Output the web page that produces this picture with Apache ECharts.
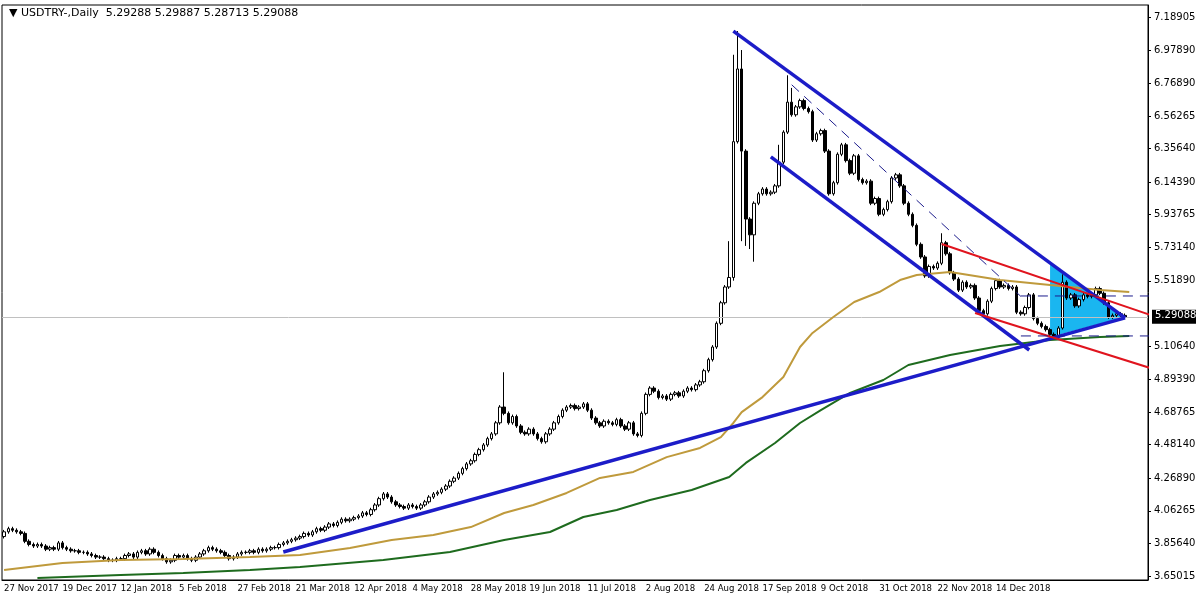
<!DOCTYPE html>
<html><head><meta charset="utf-8">
<script src="https://cdn.jsdelivr.net/npm/echarts@6/dist/echarts.min.js"></script>
<style>html,body{margin:0;padding:0;background:#fff}#c{width:1200px;height:600px}</style>
</head><body><div id="c"></div>
<script>
const closes = [
3.93,3.95,3.94,3.93,3.92,3.87,3.85,3.84,3.85,3.84,3.82,3.83,3.82,3.86,
3.83,3.82,3.81,3.81,3.80,3.80,3.79,3.78,3.77,3.77,3.76,3.75,3.75,3.76,
3.76,3.78,3.79,3.77,3.80,3.81,3.79,3.82,3.80,3.78,3.76,3.74,3.75,3.78,
3.77,3.78,3.76,3.75,3.77,3.79,3.81,3.83,3.82,3.81,3.80,3.78,3.76,3.77,
3.79,3.80,3.80,3.81,3.80,3.82,3.81,3.82,3.83,3.83,3.85,3.86,3.87,3.88,
3.89,3.90,3.92,3.91,3.93,3.95,3.94,3.96,3.98,3.97,3.99,4.01,4.00,4.01,
4.02,4.03,4.05,4.04,4.07,4.10,4.14,4.17,4.15,4.12,4.10,4.09,4.08,4.10,
4.09,4.08,4.10,4.12,4.15,4.17,4.18,4.20,4.22,4.25,4.27,4.30,4.33,4.36,
4.38,4.42,4.45,4.48,4.52,4.55,4.62,4.72,4.68,4.62,4.66,4.60,4.56,4.55,
4.58,4.55,4.52,4.50,4.55,4.58,4.62,4.66,4.70,4.72,4.73,4.71,4.72,4.74,
4.70,4.65,4.62,4.60,4.63,4.62,4.61,4.64,4.60,4.58,4.62,4.55,4.54,4.68,
4.80,4.84,4.82,4.78,4.79,4.77,4.80,4.81,4.79,4.82,4.84,4.83,4.86,4.88,
4.95,5.02,5.10,5.25,5.38,5.48,5.54,6.40,6.86,6.34,5.91,5.81,6.01,6.07,
6.10,6.07,6.08,6.12,6.27,6.46,6.65,6.57,6.62,6.66,6.61,6.59,6.41,6.45,
6.47,6.34,6.07,6.14,6.32,6.38,6.28,6.20,6.31,6.16,6.14,6.15,6.01,6.04,
5.94,5.97,6.02,6.17,6.19,6.12,6.01,5.94,5.87,5.75,5.67,5.55,5.61,5.60,
5.63,5.76,5.69,5.57,5.53,5.46,5.51,5.48,5.49,5.41,5.33,5.31,5.39,5.47,
5.52,5.48,5.49,5.47,5.48,5.32,5.31,5.35,5.43,5.28,5.25,5.23,5.21,5.18,
5.16,5.22,5.51,5.41,5.43,5.36,5.40,5.43,5.42,5.43,5.47,5.44,5.38,5.29,
5.30,5.31,5.30,5.29
];
const firstOpen = 3.90;
const highOverrides = {120:4.94, 174:5.77, 175:6.95, 176:7.10, 177:6.98, 186:6.38, 188:6.82, 189:6.74, 225:5.82, 254:5.56};
const lowOverrides = {175:5.52, 177:5.77, 178:5.74, 179:5.72, 180:5.64, 254:5.21};
const dateLabels = ["27 Nov 2017","19 Dec 2017","12 Jan 2018","5 Feb 2018","27 Feb 2018","21 Mar 2018","12 Apr 2018","4 May 2018","28 May 2018","19 Jun 2018","11 Jul 2018","2 Aug 2018","24 Aug 2018","17 Sep 2018","9 Oct 2018","31 Oct 2018","22 Nov 2018","14 Dec 2018"];
const yTicks = [3.65015,3.85640,4.06265,4.26890,4.48140,4.68765,4.89390,5.10640,5.51890,5.73140,5.93765,6.14390,6.35640,6.56265,6.76890,6.97890,7.18905];
const maGold = [[0,3.688],[14,3.732],[28,3.751],[43,3.758],[59,3.770],[71,3.783],[83,3.827],[93,3.878],[103,3.910],[112,3.960],[120,4.049],[127,4.100],[135,4.176],[143,4.271],[151,4.309],[159,4.403],[167,4.461],[172,4.530],[175,4.619],[177,4.688],[182,4.783],[187,4.910],[191,5.100],[194,5.189],[199,5.290],[204,5.385],[210,5.448],[215,5.524],[219,5.556],[227,5.575],[239,5.524],[251,5.492],[263,5.461],[270,5.448]];
const maGreen = [[8,3.637],[28,3.656],[43,3.669],[59,3.688],[71,3.707],[91,3.751],[107,3.802],[120,3.878],[131,3.929],[139,4.024],[147,4.068],[155,4.131],[165,4.195],[174,4.277],[178,4.366],[185,4.492],[191,4.619],[196,4.701],[203,4.809],[211,4.891],[217,4.986],[227,5.049],[239,5.106],[251,5.144],[263,5.163],[270,5.170]];
const blueLines = [[[67.4,3.802],[269.3,5.284]], [[175,7.100],[269.3,5.284]], [[183.5,6.303],[246,5.081]]];
const redLines = [[[225,5.752],[275,5.303]], [[232.6,5.315],[275,4.967]]];
const dashLines = [[[189,6.76],[244,5.42]], [[244,5.423],[276,5.423]], [[244,5.170],[276,5.170]]];
const triangle = [[250.6,5.632],[250.6,5.163],[269,5.290]];
const lastPrice = 5.29088;

const N = 275;
const cats = []; for (let i=0;i<N;i++) cats.push(i%14===0 && dateLabels[i/14] ? dateLabels[i/14] : '');
const ohlc = closes.map((c,i)=>{
  const o = i===0?firstOpen:closes[i-1];
  let h = Math.max(o,c)+0.012, l = Math.min(o,c)-0.012;
  if (highOverrides[i]!==undefined) h = highOverrides[i];
  if (lowOverrides[i]!==undefined) l = lowOverrides[i];
  return [o,c,l,h];
});
const lineSeries = (pts,color,width,type)=>({type:'line',data:pts,symbol:'none',silent:true,animation:false,lineStyle:{color,width,type:type||'solid'},z:5});
const series = [
  {type:'custom',renderItem:(p,api)=>({type:'polygon',shape:{points:triangle.map(t=>api.coord(t))},style:{fill:'#1ab6f0'}}),data:[0],z:1,silent:true},
  lineSeries(maGold,'#bf9a3c',2), lineSeries(maGreen,'#1e6b1e',2),
  {type:'candlestick',data:ohlc,barWidth:3,z:3,itemStyle:{color:'#ffffff',color0:'#000000',borderColor:'#000000',borderColor0:'#000000',borderWidth:1},
   markLine:{symbol:'none',silent:true,label:{show:false},lineStyle:{color:'#c0c0c0',type:'solid',width:1},data:[{yAxis:lastPrice}]}},
];
blueLines.forEach(l=>series.push(lineSeries(l,'#1c1cc8',3.5)));
redLines.forEach(l=>series.push(lineSeries(l,'#e0141e',2)));
dashLines.forEach(l=>series.push(lineSeries(l,'#1c1c8c',1,[10,7])));
const chart = echarts.init(document.getElementById('c'));
chart.setOption({
  animation:false,
  title:{text:'▼ USDTRY-,Daily  5.29288 5.29887 5.28713 5.29088',left:4,top:3,textStyle:{fontSize:11,fontWeight:'normal',color:'#000',fontFamily:'DejaVu Sans'}},
  grid:{left:2,right:52,top:5,bottom:20,show:true,borderColor:'#000',borderWidth:1},
  xAxis:{type:'category',data:cats,boundaryGap:true,
    axisLine:{lineStyle:{color:'#000'}},
    axisTick:{interval:(i)=>i%14===0,length:3,lineStyle:{color:'#000'}},
    axisLabel:{interval:(i)=>i%14===0,showMinLabel:true,hideOverlap:false,align:'left',fontSize:9.5,color:'#000',fontFamily:'DejaVu Sans Condensed, Liberation Sans Narrow, Liberation Sans',margin:4},
    splitLine:{show:false}},
  yAxis:{type:'value',position:'right',min:3.625,max:7.265,scale:true,
    axisLine:{show:true,lineStyle:{color:'#000'}},
    axisTick:{show:true,customValues:yTicks,length:3,lineStyle:{color:'#000'}},
    axisLabel:{customValues:yTicks,fontSize:10,color:'#000',fontFamily:'DejaVu Sans',formatter:v=>v.toFixed(5),margin:6},
    splitLine:{show:false}},
  series
});
const p = chart.convertToPixel({yAxisIndex:0},lastPrice);
chart.setOption({graphic:[{type:'rect',shape:{x:1152,y:p-7,width:44,height:14},style:{fill:'#000'}},
  {type:'text',x:1155,y:p-6,style:{text:lastPrice.toFixed(5),fill:'#fff',font:'10px DejaVu Sans'}}]});
</script></body></html>
